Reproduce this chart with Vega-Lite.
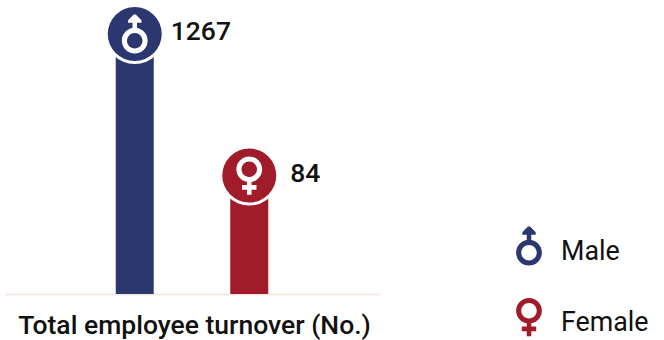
{"$schema":"https://vega.github.io/schema/vega-lite/v6.json","width":664,"height":294,"autosize":{"type":"none"},"padding":{"left":0,"top":0,"right":0,"bottom":46},"background":"white","config":{"view":{"stroke":null},"font":"Roboto"},
"data":{"values":[{"gender":"Male","value":1267},{"gender":"Female","value":84}]},
"encoding":{"x":{"field":"gender","type":"nominal","sort":null,"scale":{"type":"band","range":[5,379],"paddingInner":0.5,"paddingOuter":0.883},"axis":{"title":"Total employee turnover (No.)","labels":false,"ticks":false,"grid":false,"domainColor":"#f5e9e6","domainWidth":2,"titleFont":"Roboto","titleFontSize":26.5,"titleFontWeight":500,"titleColor":"#111111","titlePadding":18,"titleX":194}},"y":{"field":"value","type":"quantitative","scale":{"domain":[0,84,1267],"range":[294,175.5,34]},"axis":null}},
"resolve":{"legend":{"color":"independent","shape":"independent"},"scale":{"shape":"independent"}},
"layer":[
{"mark":{"type":"bar","size":38},"encoding":{"color":{"field":"gender","type":"nominal","sort":null,"scale":{"domain":["Male","Female"],"range":["#2c3770","#a01c2b"]},"legend":null}}},
{"mark":{"type":"point","filled":true,"size":1700,"opacity":1},"encoding":{"color":{"field":"gender","type":"nominal","sort":null,"legend":{"title":null,"orient":"none","legendX":508,"legendY":231,"symbolSize":1700,"rowPadding":31,"labelFont":"Roboto","labelFontSize":26.8,"labelColor":"#111111","labelOffset":11,"symbolStrokeWidth":0}},"shape":{"field":"gender","type":"nominal","sort":null,"legend":{"title":null,"orient":"none","legendX":508,"legendY":231,"symbolSize":1700,"rowPadding":31,"labelFont":"Roboto","labelFontSize":26.8,"labelColor":"#111111","labelOffset":11,"symbolStrokeWidth":0},"scale":{"domain":["Male","Female"],"range":["M-0.625,0.035 A0.625,0.625 0 1,1 0.625,0.035 A0.625,0.625 0 1,1 -0.625,0.035 Z M-0.375,0.035 A0.375,0.375 0 1,0 0.375,0.035 A0.375,0.375 0 1,0 -0.375,0.035 Z M-0.11,-0.49 L-0.11,-0.84 L-0.325,-0.84 L-0.325,-0.96 L-0.05,-1.24 L0.05,-1.24 L0.325,-0.96 L0.325,-0.84 L0.11,-0.84 L0.11,-0.49 Z","M-0.625,-0.59 A0.625,0.625 0 1,1 0.625,-0.59 A0.625,0.625 0 1,1 -0.625,-0.59 Z M-0.375,-0.59 A0.375,0.375 0 1,0 0.375,-0.59 A0.375,0.375 0 1,0 -0.375,-0.59 Z M-0.11,-0.09 L0.11,-0.09 L0.11,0.17 L0.35,0.17 L0.35,0.4 L0.11,0.4 L0.11,0.64 L-0.11,0.64 L-0.11,0.4 L-0.35,0.4 L-0.35,0.17 L-0.11,0.17 Z"]}}}},
{"mark":{"type":"point","filled":true,"size":3600,"shape":"circle","color":"white","opacity":1}},
{"mark":{"type":"point","filled":true,"size":2916,"shape":"circle","opacity":1},"encoding":{"color":{"field":"gender","type":"nominal","sort":null,"legend":null}}},
{"mark":{"type":"point","filled":true,"size":1700,"color":"white","opacity":1},"encoding":{"shape":{"field":"gender","type":"nominal","sort":null,"legend":null,"scale":{"domain":["Male","Female"],"range":["M-0.625,0.325 A0.625,0.625 0 1,1 0.625,0.325 A0.625,0.625 0 1,1 -0.625,0.325 Z M-0.375,0.325 A0.375,0.375 0 1,0 0.375,0.325 A0.375,0.375 0 1,0 -0.375,0.325 Z M-0.11,-0.2 L-0.11,-0.55 L-0.325,-0.55 L-0.325,-0.67 L-0.05,-0.95 L0.05,-0.95 L0.325,-0.67 L0.325,-0.55 L0.11,-0.55 L0.11,-0.2 Z","M-0.625,-0.3 A0.625,0.625 0 1,1 0.625,-0.3 A0.625,0.625 0 1,1 -0.625,-0.3 Z M-0.375,-0.3 A0.375,0.375 0 1,0 0.375,-0.3 A0.375,0.375 0 1,0 -0.375,-0.3 Z M-0.11,0.2 L0.11,0.2 L0.11,0.46 L0.35,0.46 L0.35,0.69 L0.11,0.69 L0.11,0.93 L-0.11,0.93 L-0.11,0.69 L-0.35,0.69 L-0.35,0.46 L-0.11,0.46 Z"]}}}},
{"transform":[{"filter":"datum.gender==='Male'"}],"mark":{"type":"text","align":"left","baseline":"middle","dx":36,"dy":-2,"font":"Roboto","fontSize":26.5,"fontWeight":500,"color":"#111111"},"encoding":{"text":{"field":"value","type":"nominal"}}},
{"transform":[{"filter":"datum.gender==='Female'"}],"mark":{"type":"text","align":"left","baseline":"middle","dx":41,"dy":-2,"font":"Roboto","fontSize":26.5,"fontWeight":500,"color":"#111111"},"encoding":{"text":{"field":"value","type":"nominal"}}}
]}
